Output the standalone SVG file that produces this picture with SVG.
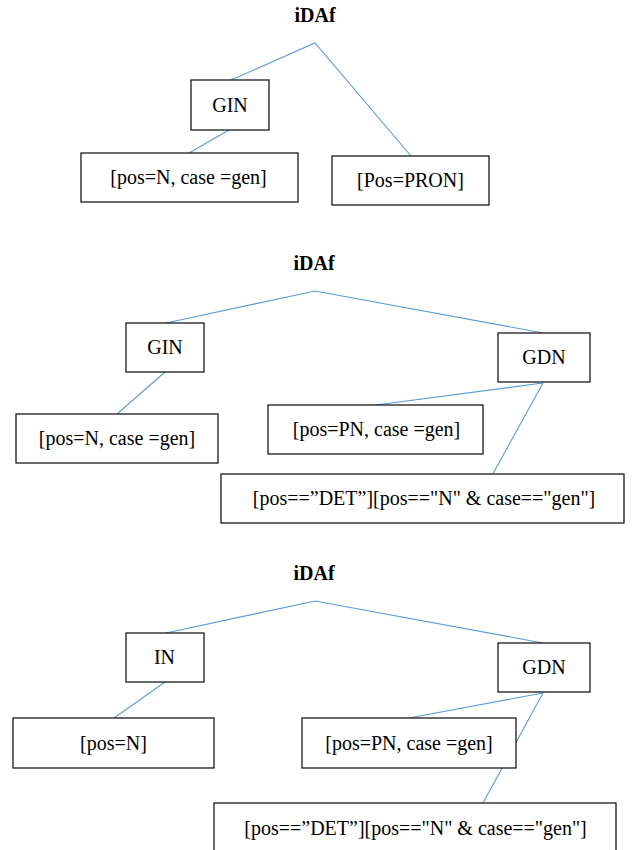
<svg xmlns="http://www.w3.org/2000/svg" width="632" height="850" viewBox="0 0 632 850">
<style>
.bg{fill:#ffffff}
.box{fill:#ffffff;stroke:#1a1a1a;stroke-width:1.3}
.lbl{font-family:"Liberation Serif","Times New Roman",serif;font-size:20px;fill:#000;text-anchor:middle}
.title{font-family:"Liberation Serif","Times New Roman",serif;font-size:20px;font-weight:bold;fill:#000;text-anchor:middle}
.edge{stroke:#5b9bd5;stroke-width:1.1;fill:none}
</style>
<rect class="bg" x="0" y="0" width="632" height="850"/>

<g id="connectors">
  <!-- panel 1 -->
  <polyline class="edge" points="231,80 315,43 411,156"/>
  <line class="edge" x1="229" y1="130" x2="189" y2="153"/>
  <!-- panel 2 -->
  <polyline class="edge" points="166,323 315,291 543,333"/>
  <line class="edge" x1="165" y1="372" x2="117" y2="414"/>
  <line class="edge" x1="543" y1="383" x2="376" y2="405"/>
  <line class="edge" x1="543" y1="383" x2="490" y2="479"/>
  <!-- panel 3 -->
  <polyline class="edge" points="166,633 315,601 543,643"/>
  <line class="edge" x1="165" y1="682" x2="114" y2="718"/>
  <line class="edge" x1="543" y1="693" x2="409" y2="718"/>
  <line class="edge" x1="543" y1="693" x2="483" y2="803"/>
</g>

<!-- panel 1 -->
<g id="title1"><text class="title" x="315" y="22">iDAf</text></g>
<g id="p1-gin">
  <rect class="box" x="191" y="80" width="78" height="50"/>
  <text class="lbl" x="230" y="111.5">GIN</text>
</g>
<g id="p1-posn">
  <rect class="box" x="81" y="153" width="217" height="49"/>
  <text class="lbl" x="188.5" y="184">[pos=N, case =gen]</text>
</g>
<g id="p1-pron">
  <rect class="box" x="332" y="156" width="157" height="49"/>
  <text class="lbl" x="410.5" y="187">[Pos=PRON]</text>
</g>

<!-- panel 2 -->
<g id="title2"><text class="title" x="314" y="270">iDAf</text></g>
<g id="p2-gin">
  <rect class="box" x="126" y="323" width="78" height="49"/>
  <text class="lbl" x="165" y="354">GIN</text>
</g>
<g id="p2-gdn">
  <rect class="box" x="498" y="333" width="92" height="49"/>
  <text class="lbl" x="544" y="364">GDN</text>
</g>
<g id="p2-posn">
  <rect class="box" x="16" y="414" width="202" height="49"/>
  <text class="lbl" x="117" y="445">[pos=N, case =gen]</text>
</g>
<g id="p2-pospn">
  <rect class="box" x="268" y="405" width="215" height="49"/>
  <text class="lbl" x="376.5" y="436">[pos=PN, case =gen]</text>
</g>
<g id="p2-det">
  <rect class="box" x="221" y="474" width="403" height="49"/>
  <text class="lbl" x="424" y="505">[pos==”DET”][pos=="N" &amp; case=="gen"]</text>
</g>

<!-- panel 3 -->
<g id="title3"><text class="title" x="314" y="580">iDAf</text></g>
<g id="p3-in">
  <rect class="box" x="126" y="633" width="78" height="49"/>
  <text class="lbl" x="164.5" y="664">IN</text>
</g>
<g id="p3-gdn">
  <rect class="box" x="498" y="643" width="92" height="49"/>
  <text class="lbl" x="544" y="674">GDN</text>
</g>
<g id="p3-posn">
  <rect class="box" x="13" y="718" width="201" height="50"/>
  <text class="lbl" x="113.5" y="750">[pos=N]</text>
</g>
<g id="p3-pospn">
  <rect class="box" x="302" y="718" width="214" height="50"/>
  <text class="lbl" x="409" y="750">[pos=PN, case =gen]</text>
</g>
<g id="p3-det">
  <rect class="box" x="214" y="803" width="402" height="52"/>
  <text class="lbl" x="415.5" y="835">[pos==”DET”][pos=="N" &amp; case=="gen"]</text>
</g>
</svg>
